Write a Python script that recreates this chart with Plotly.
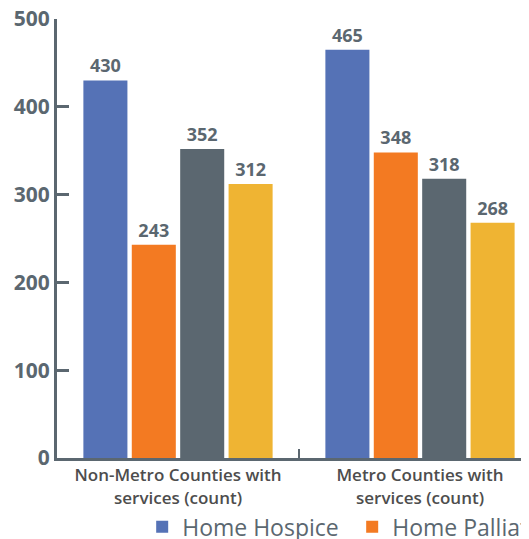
import plotly.graph_objects as go

categories = ["Non-Metro Counties with<br>services (count)", "Metro Counties with<br>services (count)"]
series_names = ["Home Hospice", "Home Palliative", "Inpatient Hospice", "Inpatient Palliative"]
home_hospice = [430, 465]
home_palliative = [243, 348]
inpatient_hospice = [352, 318]
inpatient_palliative = [312, 268]
series_values = [home_hospice, home_palliative, inpatient_hospice, inpatient_palliative]
colors = ["#5572b6", "#f37a22", "#5b6770", "#efb433"]
y_ticks = [0, 100, 200, 300, 400, 500]

axis_color = "#5b6770"
font_family = "Open Sans"

fig = go.Figure()
for name, vals, col in zip(series_names, series_values, colors):
    fig.add_trace(go.Bar(
        x=categories, y=vals, name=name,
        marker=dict(color=col, line=dict(width=0)),
        text=[str(v) for v in vals], textposition="outside",
        textfont=dict(family=font_family, size=18, color=axis_color, weight="bold"),
        cliponaxis=False,
    ))

W, H = 1100, 580
L, T, PR, PB = 49, 11, 533, 450
fig.update_layout(
    width=W, height=H,
    margin=dict(l=L, r=W - PR, t=T, b=H - PB, autoexpand=False),
    plot_bgcolor="white", paper_bgcolor="white",
    bargap=0.2, bargroupgap=0.09,
    showlegend=True,
    legend=dict(orientation="h", x=0.176, xanchor="left", y=-0.108, yanchor="top",
                entrywidth=165, entrywidthmode="pixels",
                bgcolor="rgba(0,0,0,0)",
                font=dict(family=font_family, size=23, color="#5b6770"),
                itemclick=False),
    font=dict(family=font_family),
)
fig.update_yaxes(
    range=[0, 500], tickvals=y_ticks, showgrid=False, zeroline=False,
    showline=True, linewidth=3, linecolor=axis_color,
    ticks="inside", ticklen=12, tickwidth=3, tickcolor=axis_color,
    ticklabeloverflow="allow",
    tickfont=dict(family=font_family, size=21, color=axis_color, weight="bold"),
)
fig.update_xaxes(
    showgrid=False, zeroline=False, showline=True, linewidth=3, linecolor=axis_color,
    tickson="boundaries", ticks="inside", ticklen=9, tickwidth=1.5, tickcolor=axis_color,
    tickfont=dict(family=font_family, size=17, color="#4d4d4d", weight=600),
)
fig.write_html("out.html")
